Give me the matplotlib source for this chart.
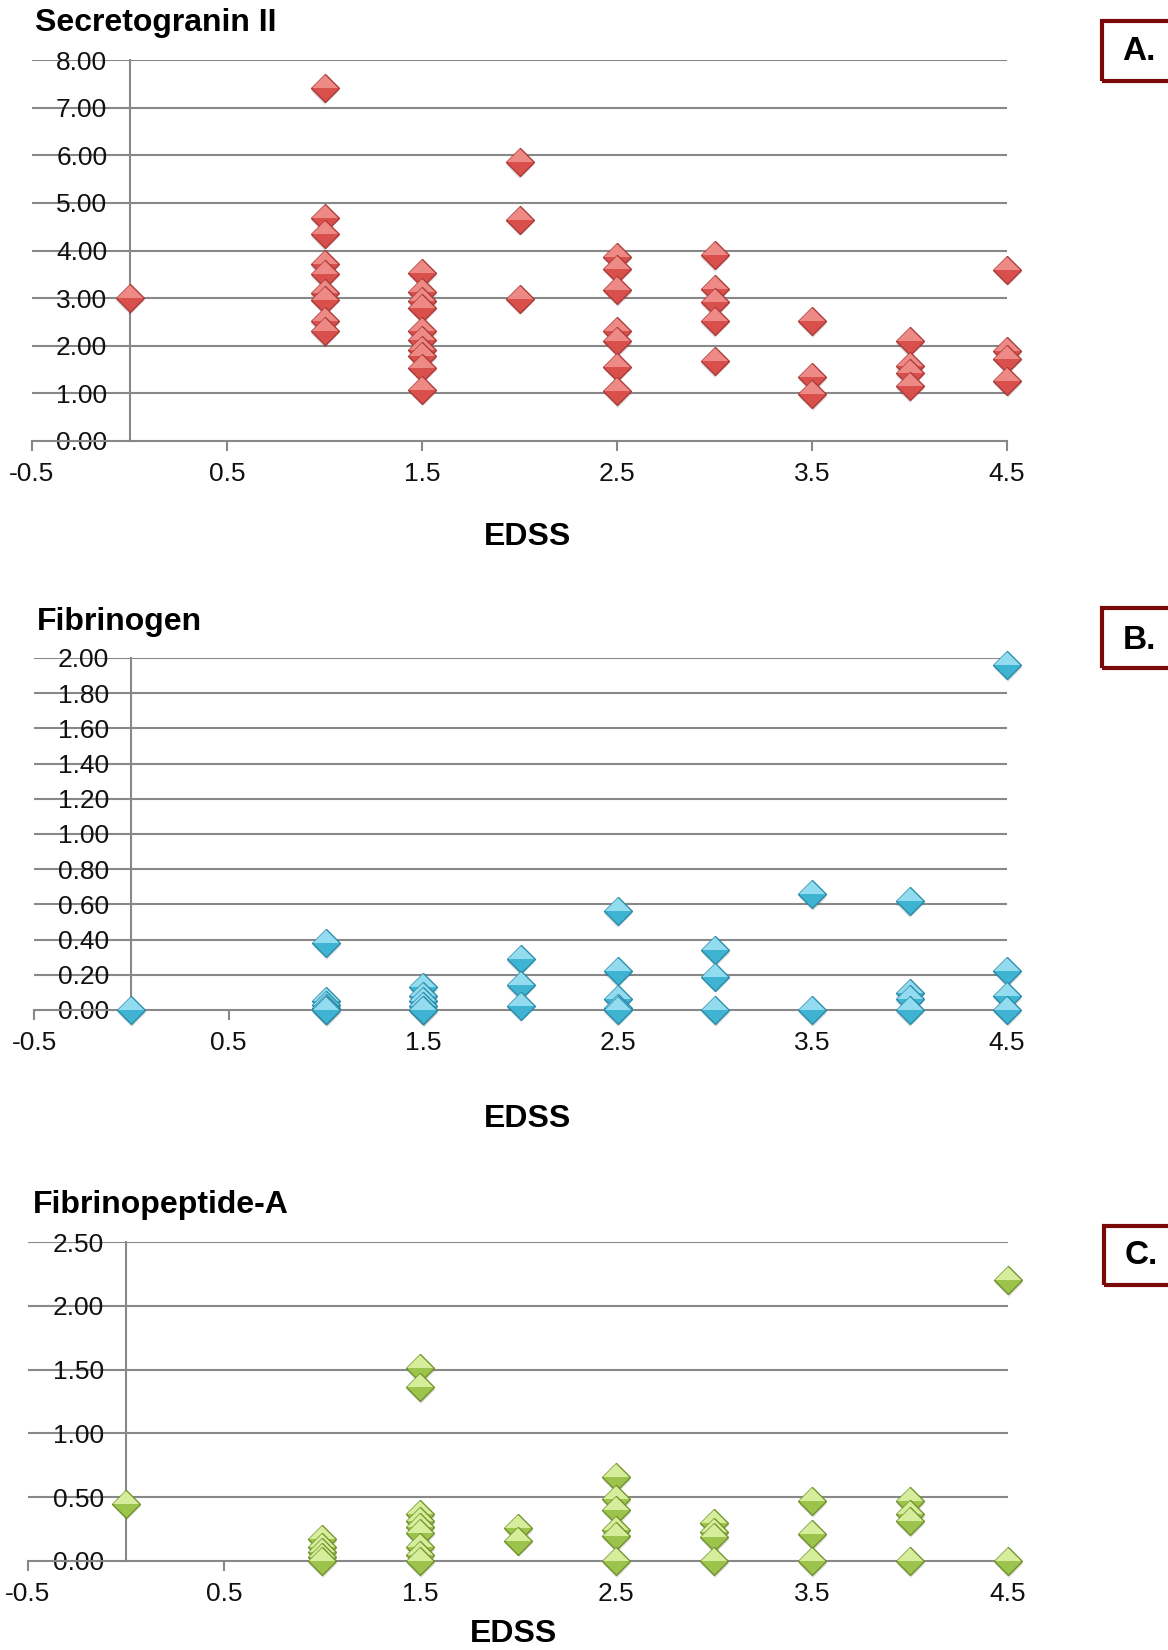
import matplotlib
matplotlib.use("Agg")
import matplotlib.pyplot as plt
from matplotlib.patches import Rectangle
import numpy as np

plt.rcParams['font.family'] = ['Liberation Sans', 'DejaVu Sans']

# ---------------- data ----------------
edss_A = [0,
          1, 1, 1, 1, 1, 1, 1, 1, 1,
          1.5, 1.5, 1.5, 1.5, 1.5, 1.5, 1.5, 1.5, 1.5, 1.5,
          2, 2, 2,
          2.5, 2.5, 2.5, 2.5, 2.5, 2.5, 2.5,
          3, 3, 3, 3, 3,
          3.5, 3.5, 3.5,
          4, 4, 4, 4,
          4.5, 4.5, 4.5, 4.5]
secretogranin = [3.00,
                 7.41, 4.69, 4.34, 3.71, 3.50, 3.11, 2.97, 2.52, 2.30,
                 3.53, 3.13, 2.94, 2.80, 2.31, 2.13, 1.92, 1.78, 1.54, 1.08,
                 5.86, 4.65, 2.99,
                 3.87, 3.62, 3.17, 2.31, 2.10, 1.56, 1.05,
                 3.90, 3.20, 2.92, 2.51, 1.67,
                 2.52, 1.34, 0.98,
                 2.10, 1.57, 1.43, 1.15,
                 3.60, 1.89, 1.73, 1.26]

edss_B = [0,
          1, 1, 1, 1, 1, 1,
          1.5, 1.5, 1.5, 1.5, 1.5, 1.5,
          2, 2, 2,
          2.5, 2.5, 2.5, 2.5, 2.5,
          3, 3, 3,
          3.5, 3.5,
          4, 4, 4, 4,
          4.5, 4.5, 4.5, 4.5]
fibrinogen = [0.00,
              0.38, 0.05, 0.03, 0.01, 0.00, 0.00,
              0.13, 0.08, 0.05, 0.02, 0.00, 0.00,
              0.29, 0.14, 0.025,
              0.56, 0.22, 0.065, 0.01, 0.00,
              0.34, 0.19, 0.00,
              0.66, 0.00,
              0.62, 0.095, 0.06, 0.00,
              1.96, 0.22, 0.08, 0.00]

edss_C = [0,
          1, 1, 1, 1, 1,
          1.5, 1.5, 1.5, 1.5, 1.5, 1.5, 1.5, 1.5, 1.5,
          2, 2,
          2.5, 2.5, 2.5, 2.5, 2.5, 2.5,
          3, 3, 3, 3,
          3.5, 3.5, 3.5,
          4, 4, 4, 4,
          4.5, 4.5]
fibrinopeptide = [0.45,
                  0.17, 0.11, 0.07, 0.03, 0.00,
                  1.51, 1.36, 0.37, 0.31, 0.27, 0.22, 0.11, 0.045, 0.00,
                  0.26, 0.16,
                  0.66, 0.485, 0.40, 0.24, 0.195, 0.00,
                  0.30, 0.23, 0.19, 0.00,
                  0.47, 0.21, 0.00,
                  0.47, 0.37, 0.31, 0.00,
                  2.20, 0.00]

x_ticks = [-0.5, 0.5, 1.5, 2.5, 3.5, 4.5]
x_tick_labels = ["-0.5", "0.5", "1.5", "2.5", "3.5", "4.5"]
ticks_A = [0, 1, 2, 3, 4, 5, 6, 7, 8]
ticks_B = [0, 0.2, 0.4, 0.6, 0.8, 1.0, 1.2, 1.4, 1.6, 1.8, 2.0]
ticks_C = [0, 0.5, 1.0, 1.5, 2.0, 2.5]

# ---------------- figure ----------------
W, H = 1168, 1650
fig = plt.figure(figsize=(W / 100, H / 100), dpi=100)

GRID = '#888888'


def px_axes(left, right, top, bottom):
    return fig.add_axes([left / W, 1 - bottom / H, (right - left) / W, (bottom - top) / H])


def panel(box, xs, ys, yticks, ymax, face_top, face_bot, edge, title, title_pos,
          edss_pos, letter, letter_box, letter_pos):
    ax = px_axes(*box)
    ax.set_xlim(-0.5, 4.5)
    ax.set_ylim(0, ymax)
    for yv in yticks[1:]:
        ax.axhline(yv, color=GRID, lw=1.5, zorder=1)
    ax.spines['top'].set_visible(False)
    ax.spines['right'].set_visible(False)
    ax.spines['left'].set_position(('data', 0))
    ax.spines['left'].set_color(GRID)
    ax.spines['left'].set_linewidth(1.5)
    ax.spines['bottom'].set_color(GRID)
    ax.spines['bottom'].set_linewidth(1.5)
    ax.set_yticks(yticks)
    ax.set_yticklabels([f"{v:.2f}" for v in yticks])
    ax.tick_params(axis='y', length=0, pad=16, labelsize=19, labelcolor='#111111')
    ax.set_xticks(x_ticks)
    ax.set_xticklabels(x_tick_labels)
    ax.tick_params(axis='x', length=7, width=1.5, color=GRID, pad=8,
                   labelsize=19, labelcolor='#111111', direction='out')
    ax.patch.set_visible(False)
    z = 5
    for xv, yv in zip(xs, ys):
        # soft shadow
        ax.plot([xv], [yv], linestyle='none', marker='D', markersize=14.5,
                markerfacecolor='#000000', markeredgewidth=0, alpha=0.12,
                clip_on=False, zorder=z,
                transform=ax.transData + matplotlib.transforms.ScaledTranslation(0.5 / 72, -2.0 / 72, fig.dpi_scale_trans))
        # body
        ax.plot([xv], [yv], linestyle='none', marker='D', markersize=14.5,
                markerfacecolor=face_bot, markeredgecolor=edge,
                markeredgewidth=1.0, clip_on=False, zorder=z + 0.1)
        # lighter upper half (highlight)
        ax.plot([xv], [yv], linestyle='none', marker='D', markersize=13.0,
                markerfacecolor=face_top, markerfacecoloralt='none', fillstyle='top',
                markeredgewidth=0, clip_on=False, zorder=z + 0.2)
        z += 0.3

    fig.text(title_pos[0] / W, 1 - title_pos[1] / H, title, fontsize=23,
             fontweight='bold', ha='left', va='center')
    fig.text(edss_pos[0] / W, 1 - edss_pos[1] / H, 'EDSS', fontsize=23,
             fontweight='bold', ha='center', va='center')
    bx0, by0, by1 = letter_box
    fig.patches.append(Rectangle((bx0 / W, 1 - by1 / H), (W + 20 - bx0) / W, (by1 - by0) / H,
                                 transform=fig.transFigure, fill=False,
                                 edgecolor='#7a0a0a', linewidth=3, clip_on=False))
    fig.text(letter_pos[0] / W, 1 - letter_pos[1] / H, letter, fontsize=24,
             fontweight='bold', ha='center', va='center')
    return ax


panel((32, 1007, 60, 441), edss_A, secretogranin, ticks_A, 8,
      '#ee8a86', '#d94f4c', '#a83a38', 'Secretogranin II', (35, 23),
      (527, 537), 'A.', (1102, 21, 81), (1139, 52))

panel((34, 1007, 658, 1010), edss_B, fibrinogen, ticks_B, 2.0,
      '#93dbee', '#3fb3d2', '#2a8aa8', 'Fibrinogen', (37, 622),
      (527, 1119), 'B.', (1102, 608, 668), (1139, 640))

panel((28, 1008, 1242, 1561), edss_C, fibrinopeptide, ticks_C, 2.5,
      '#d6ee9c', '#9cc44c', '#6f902c', 'Fibrinopeptide-A', (33, 1205),
      (513, 1634), 'C.', (1104, 1226, 1285), (1141, 1255))

fig.savefig('out.png', dpi=100)
